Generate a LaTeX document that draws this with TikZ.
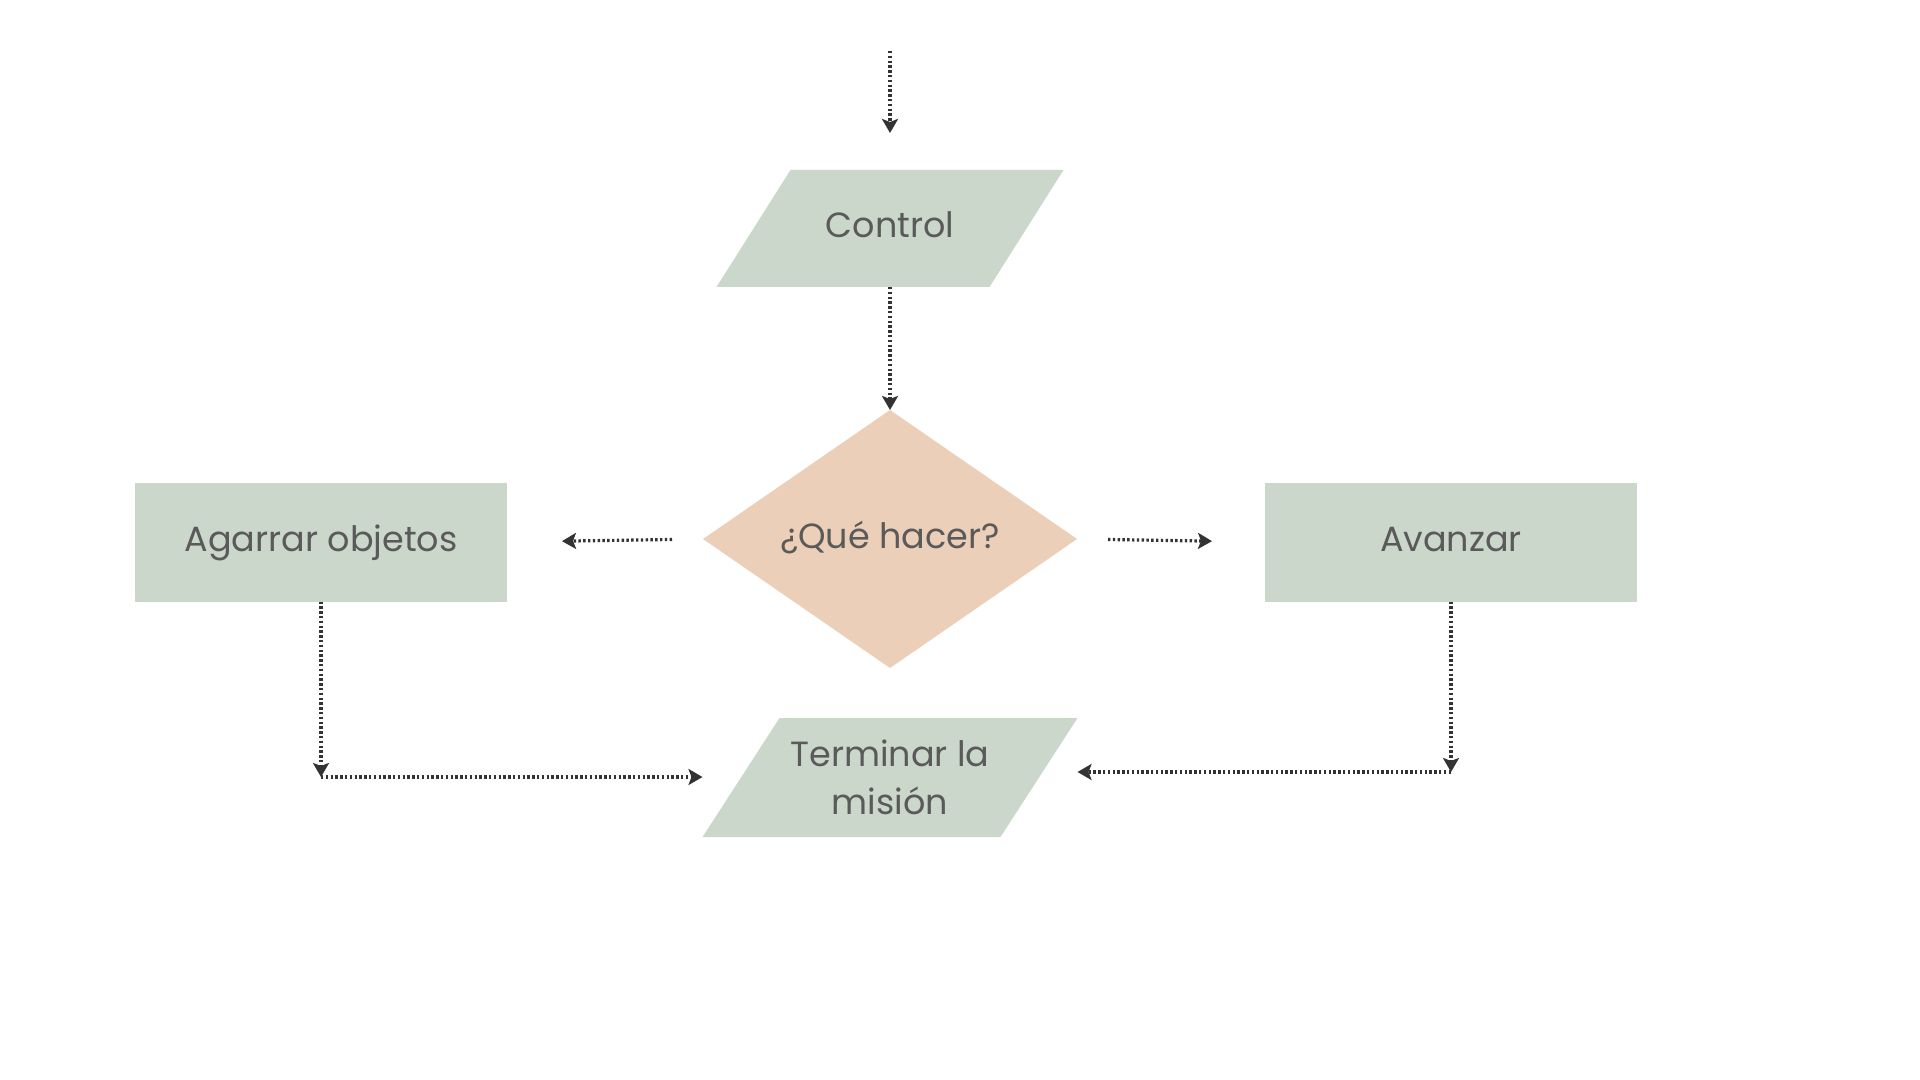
\documentclass[tikz,border=0pt]{standalone}
\usepackage{fontspec}
\setmainfont{Poppins}
\usetikzlibrary{shapes.geometric,arrows.meta,backgrounds}
\definecolor{sage}{HTML}{CCD7CC}
\definecolor{peach}{HTML}{ECCFB8}
\definecolor{txt}{HTML}{5A5A5A}
\definecolor{ln}{HTML}{333333}
\tikzset{
  lbl/.style={text=txt,font=\fontsize{17.5pt}{24pt}\selectfont,align=center,inner sep=0pt,outer sep=0pt},
  oneline/.style={text height=13pt,text depth=3.7pt},
  boxnode/.style={lbl,oneline,rectangle,fill=sage,minimum width=186pt,minimum height=59.5pt},
  ionode/.style={lbl,rectangle},
  decnode/.style={lbl,oneline,diamond,fill=peach,minimum width=187pt,minimum height=129pt},
  conn/.style={draw=ln,line width=1.6pt,dash pattern=on 1.2pt off 1.2pt},
  arr/.style={conn,-{Stealth[length=7pt,width=8pt,inset=1.5pt]}}
}
\begin{document}
\begin{tikzpicture}[x=0.5pt,y=-0.5pt]
\useasboundingbox (0,0) rectangle (1920,1080);
\coordinate (top) at (890,51);
\node[ionode,oneline,minimum width=136.5pt,minimum height=58.5pt] (ctrl) at (890,228.5) {Control};
\node[decnode] (dia) at (890,539) {¿Qué hacer?};
\node[boxnode] (agar) at (321,542) {Agarrar objetos};
\node[boxnode] (avan) at (1451,542) {Avanzar};
\node[ionode,minimum width=149pt,minimum height=59.5pt] (term) at (890,777.5) {Terminar la\\misión};
\coordinate (termBL) at ([xshift=-19.25pt]term.south west);
\coordinate (termTR) at ([xshift=19.25pt]term.north east);
\begin{scope}[on background layer]
  \fill[white] (0,0) rectangle (1920,1080);
  \fill[sage] ([xshift=-18.5pt]ctrl.south west) -- ([xshift=18.5pt]ctrl.north west)
    -- ([xshift=18.5pt]ctrl.north east) -- ([xshift=-18.5pt]ctrl.south east) -- cycle;
  \fill[sage] (termBL) -- ([xshift=19.25pt]term.north west)
    -- (termTR) -- ([xshift=-19.25pt]term.south east) -- cycle;
\end{scope}
\coordinate (cL) at (agar.south |- 0,777);
\coordinate (cR) at (avan.south |- 0,772);
\draw[arr,shorten >=18.5pt] (top) -- (ctrl.north);
\draw[arr] (ctrl.south) -- (dia.north);
\draw[arr,shorten <=15.5pt,shorten >=27.5pt] (dia.west) -- (agar.east);
\draw[arr,shorten <=15.5pt,shorten >=26.5pt] (dia.east) -- (avan.west);
\draw[arr] (agar.south) -- (cL);
\draw[arr] (cL) -- (cL -| termBL);
\draw[arr] (avan.south) -- (cR);
\draw[arr] (cR) -- (cR -| termTR);
\end{tikzpicture}
\end{document}
